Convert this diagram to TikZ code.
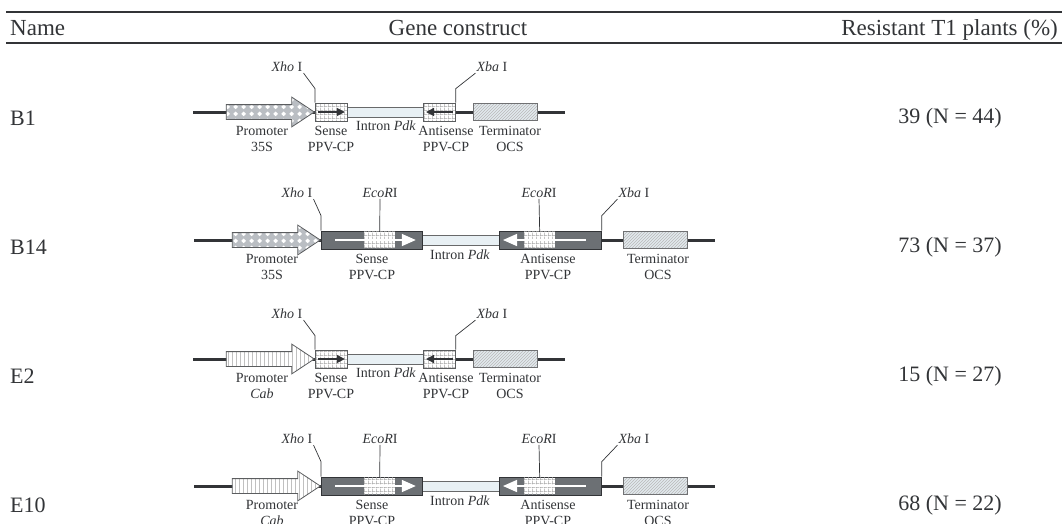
\documentclass[tikz,border=0pt]{standalone}
\usepackage{fontspec}
\setmainfont{Liberation Serif}
\usetikzlibrary{positioning,arrows.meta,shapes.arrows,patterns,patterns.meta}
\definecolor{ink}{RGB}{50,52,55}
\definecolor{darkbox}{RGB}{108,112,116}
\definecolor{introncol}{RGB}{232,240,244}
\definecolor{termcol}{RGB}{226,233,238}
\definecolor{promcol}{RGB}{186,190,195}

\tikzdeclarepattern{name=diamonds, type=uncolored,
  bounding box={(0pt,0pt) and (8pt,7pt)}, tile size={(8pt,7pt)},
  code={\fill (4pt,0.9pt) -- (6.6pt,3.5pt) -- (4pt,6.1pt) -- (1.4pt,3.5pt) -- cycle;}}
\tikzdeclarepattern{name=vbars, type=uncolored,
  bounding box={(0pt,0pt) and (3.5pt,1pt)}, tile size={(3.5pt,1pt)},
  code={\fill (0pt,0pt) rectangle (0.9pt,1pt);}}
\tikzdeclarepattern{name=checks, type=uncolored,
  bounding box={(0pt,0pt) and (4pt,4pt)}, tile size={(4pt,4pt)},
  code={\fill (0pt,0pt) rectangle (4pt,0.8pt); \fill (0pt,0pt) rectangle (0.8pt,4pt);}}

% short hairpin: prefix, line y, promoter style, promoter name
\newcommand\ihpshort[4]{%
\begin{scope}[yshift=-#2pt]
  \coordinate (#1l) at (193,0);
  \coordinate (#1r) at (565,0);
  \draw[backbone] (#1l) -- (#1r);
  \node[#3, anchor=tip] (#1prom) at (315,0) {};
  \node[intronbox, minimum width=76, anchor=west] (#1int) at (347,0) {};
  \node[gridbox, minimum width=32, anchor=west] (#1sense) at (315,0) {};
  \node[gridbox, minimum width=32, anchor=west] (#1anti) at (423,0) {};
  \node[termbox, minimum width=64, anchor=west] (#1term) at (473,0) {};
  \draw[darkarrow] ([xshift=3pt]#1sense.west) -- ([xshift=-3pt]#1sense.east);
  \draw[darkarrow] ([xshift=-3pt]#1anti.east) -- ([xshift=3pt]#1anti.west);
  \node[sitelbl] (#1xho) at (287,-45) {\textit{Xho} I};
  \node[sitelbl] (#1xba) at (492,-45) {\textit{Xba} I};
  \draw[site] (#1sense.north west) -- ++(0,-14) -- (#1xho.south east);
  \draw[site] (#1anti.north east) -- ++(0,-14) -- (#1xba.south west);
  \node[lbl] (#1lprom) at (262,27) {Promoter\\#4};
  \node[lbl] (#1lsense) at (331,27) {Sense\\PPV-CP};
  \node[lbl] (#1lint) at (386,14) {Intron \textit{Pdk}};
  \node[lbl] (#1lanti) at (446,27) {Antisense\\PPV-CP};
  \node[lbl] (#1lterm) at (510,27) {Terminator\\OCS};
\end{scope}}

% long hairpin: prefix, line y, promoter style, promoter name
\newcommand\ihplong[4]{%
\begin{scope}[yshift=-#2pt]
  \coordinate (#1l) at (194,0);
  \coordinate (#1r) at (715,0);
  \draw[backbone] (#1l) -- (#1r);
  \node[#3, anchor=tip] (#1prom) at (321,0) {};
  \node[intronbox, minimum width=77, anchor=west] (#1int) at (422,0) {};
  \node[hpbox, minimum width=101, anchor=west] (#1sense) at (321,0) {};
  \node[hpbox, minimum width=102, anchor=west] (#1anti) at (499,0) {};
  \node[patch, minimum width=31, anchor=west] (#1sp) at (364,0) {};
  \node[patch, minimum width=31, anchor=west] (#1ap) at (524,0) {};
  \node[termbox, minimum width=64, anchor=west] (#1term) at (623,0) {};
  \draw[whitearrow] ([xshift=14pt]#1sense.west) -- ([xshift=-7pt]#1sense.east);
  \draw[whitearrow] ([xshift=-16pt]#1anti.east) -- ([xshift=4pt]#1anti.west);
  \node[sitelbl] (#1xho) at (297,-47) {\textit{Xho} I};
  \node[sitelbl] (#1eco) at (380,-47) {\textit{EcoR}I};
  \node[sitelbl] (#1ecob) at (539,-47) {\textit{EcoR}I};
  \node[sitelbl] (#1xba) at (634,-47) {\textit{Xba} I};
  \draw[site] (#1sense.north west) -- ++(0,-15) -- (#1xho.south east);
  \draw[site] (#1sp.north) -- (#1eco.south);
  \draw[site] (#1ap.north) -- (#1ecob.south);
  \draw[site] (#1anti.north east) -- ++(0,-15) -- (#1xba.south west);
  \node[lbl] (#1lprom) at (272,27) {Promoter\\#4};
  \node[lbl] (#1lsense) at (372,27) {Sense\\PPV-CP};
  \node[lbl] (#1lint) at (460,15) {Intron \textit{Pdk}};
  \node[lbl] (#1lanti) at (548,27) {Antisense\\PPV-CP};
  \node[lbl] (#1lterm) at (658,27) {Terminator\\OCS};
\end{scope}}

\begin{document}
\begin{tikzpicture}[x=1pt, y=-1pt,
    backbone/.style={ink, line width=3pt},
    part/.style={draw=ink!80, line width=0.8pt, inner sep=0pt, minimum height=18},
    gridbox/.style={part, preaction={fill=white}, pattern=checks, pattern color=gray!70},
    hpbox/.style={part, fill=darkbox, draw=ink},
    patch/.style={inner sep=0pt, minimum height=16.5, preaction={fill=white}, pattern=checks, pattern color=gray!70},
    intronbox/.style={part, fill=introncol, minimum height=10, draw=gray!70!ink},
    termbox/.style={part, minimum height=17, preaction={fill=termcol}, pattern=north east lines, pattern color=gray!55, draw=ink!70},
    promarrow/.style={single arrow, draw=ink!80, line width=0.8pt, inner xsep=0pt, inner ysep=7pt,
      minimum height=88, single arrow head extend=7.5pt, single arrow tip angle=67, single arrow head indent=0pt},
    prom35/.style={promarrow, preaction={fill=promcol}, pattern=diamonds, pattern color=white},
    promcab/.style={promarrow, preaction={fill=white}, pattern=vbars, pattern color=gray!75},
    darkarrow/.style={ink, line width=1.4pt, -{Triangle[length=8pt,width=8pt]}},
    whitearrow/.style={white, line width=1.5pt, -{Triangle[length=14pt,width=12pt]}},
    site/.style={ink, line width=0.7pt},
    sitelbl/.style={font=\fontsize{14}{15}\selectfont, inner sep=1pt, text=ink},
    lbl/.style={font=\fontsize{14}{15.5}\selectfont, align=center, inner sep=0pt, text=ink},
    head/.style={font=\fontsize{23}{26}\selectfont, inner sep=0pt, text=ink},
    rowtxt/.style={font=\fontsize{22}{26}\selectfont, inner sep=0pt, text=ink},
    rule/.style={ink, line width=2pt}]
  \useasboundingbox (0,0) rectangle (1062,523);
  \clip (0,0) rectangle (1062,523);
  % table head
  \coordinate (topl) at (6,12);   \coordinate (topr) at (1062,12);
  \coordinate (midl) at (6,43);   \coordinate (midr) at (1062,43);
  \draw[rule, line width=2.5pt] (topl) -- (topr);
  \draw[rule] (midl) -- (midr);
  \node[head, anchor=base west] (hname) at (10,35) {Name};
  \node[head, anchor=base] (hgene) at (458,35) {Gene construct};
  \node[head, anchor=base east] (hres) at (1058,35) {Resistant T1 plants (\%)};
  % rows
  \foreach \n/\y/\val in {B1/118/39 (N = 44), B14/247/73 (N = 37), E2/376/15 (N = 27), E10/505/68 (N = 22)} {
    \node[rowtxt, anchor=west] (name\n) at (10,\y) {\n};
    \node[rowtxt] (res\n) at (950,\y) {\val};
  }
  % constructs
  \ihpshort{bone}{112}{prom35}{35S}
  \ihplong{bfour}{240}{prom35}{35S}
  \ihpshort{etwo}{359}{promcab}{\textit{Cab}}
  \ihplong{eten}{486}{promcab}{\textit{Cab}}
\end{tikzpicture}
\end{document}
